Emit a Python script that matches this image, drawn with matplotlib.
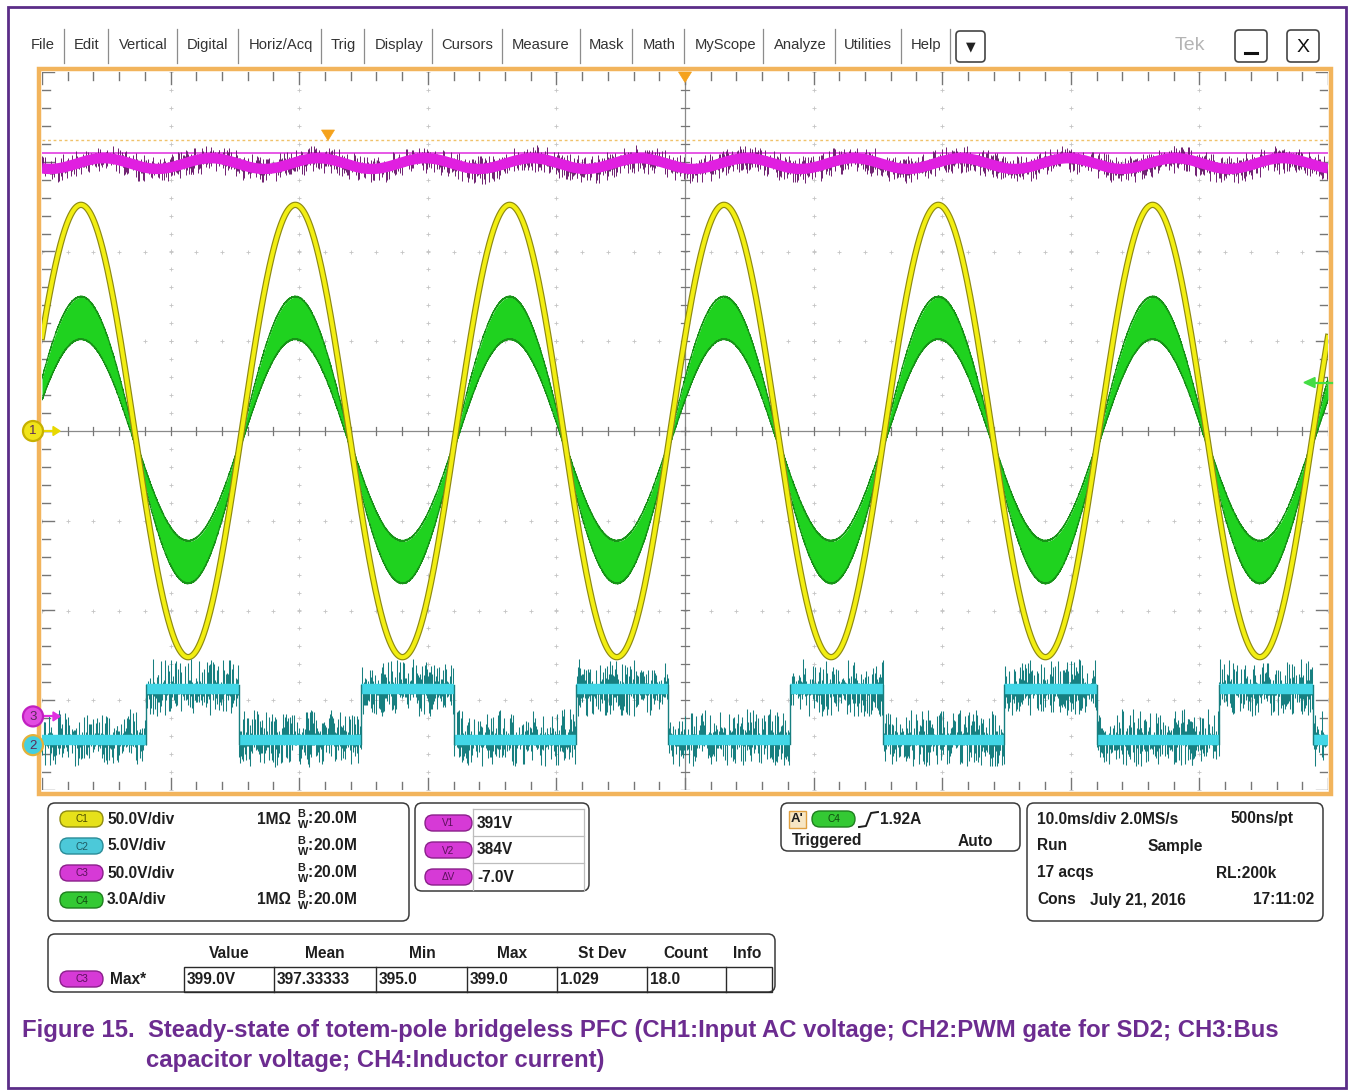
import numpy as np
import matplotlib.pyplot as plt
from matplotlib.patches import Rectangle, FancyBboxPatch, Circle, Polygon

plt.rcParams['font.family'] = ['Liberation Sans', 'DejaVu Sans']
plt.rcParams['mathtext.fontset'] = 'custom'
plt.rcParams['mathtext.rm'] = 'Liberation Sans:bold'

W, H = 1354, 1091

# time base and line frequency
ms_per_div = 10.0
line_hz = 60.0

# CH1: input AC voltage
ch1_v_per_div = 50.0
ch1_peak_v = 126.0
ch1_peak_t_ms = 3.03

# CH4: inductor current (switching ripple shown as a band)
ch4_a_per_div = 3.0
ch4_pos_div = -0.10
ch4_peak_a = 4.08
ch4_ripple_crest_a = 0.69
ch4_ripple_zero_a = 0.10
trig_level_a = 1.92

# CH3: bus capacitor voltage
ch3_v_per_div = 50.0
ch3_center_v = 229.0
ch3_mean_v = 378.0
ch3_ripple_v = 3.0
ch3_peak_t_ms = -45.2
ch3_pos_div = -3.18
cursor_v = [391.0, 384.0]

# CH2: PWM gate for SD2
ch2_v_per_div = 5.0
ch2_pos_div = -3.50
ch2_low_v = 0.3
ch2_high_v = 3.1
ch2_rise_ms = [-41.9, -25.2, -8.5, 8.2, 24.8, 41.5]
ch2_fall_ms = [-34.7, -18.0, -1.3, 15.4, 32.0, 48.8]

menu_items = ['File', 'Edit', 'Vertical', 'Digital', 'Horiz/Acq', 'Trig', 'Display',
              'Cursors', 'Measure', 'Mask', 'Math', 'MyScope', 'Analyze', 'Utilities', 'Help']
menu_x = [43, 87, 143, 208, 281, 343, 399, 467, 541, 606, 659, 726, 800, 868, 926]
menu_sep_x = [64, 108, 177, 238, 321, 364, 432, 502, 580, 632, 684, 763, 835, 901, 950]

chan_scale = ['50.0V/div', '5.0V/div', '50.0V/div', '3.0A/div']
chan_term = ['1MΩ', '', '', '1MΩ']
cursor_labels = ['V1', 'V2', 'ΔV']
cursor_text = ['391V', '384V', '-7.0V']
meas_head = ['Value', 'Mean', 'Min', 'Max', 'St Dev', 'Count', 'Info']
meas_vals = ['399.0V', '397.33333', '395.0', '399.0', '1.029', '18.0', '']

# screen rectangle in pixels
X0, X1, Y0, Y1 = 42, 1328, 72, 790


def px_x(d):
    return X0 + (d + 5) * (X1 - X0) / 10


def px_y(d):
    return Y1 - (d + 4) * (Y1 - Y0) / 8


def hashnoise(n, seed):
    k = np.arange(n, dtype=float)
    return np.modf(np.abs(np.sin(k * 12.9898 + seed * 78.233) * 43758.5453))[0]


fig = plt.figure(figsize=(W / 100, H / 100), dpi=100)
fig.patch.set_facecolor('white')

ui = fig.add_axes([0, 0, 1, 1], zorder=0)
ui.set_xlim(0, W)
ui.set_ylim(H, 0)
ui.axis('off')

ax = fig.add_axes([X0 / W, 1 - Y1 / H, (X1 - X0) / W, (Y1 - Y0) / H], zorder=2)
ax.set_xlim(-5, 5)
ax.set_ylim(-4, 4)
ax.axis('off')

top = fig.add_axes([0, 0, 1, 1], zorder=5)
top.set_xlim(0, W)
top.set_ylim(H, 0)
top.axis('off')
top.patch.set_alpha(0)

# outer border and graticule frame
ui.add_patch(Rectangle((8, 7), 1338, 1081, fill=False, ec='#5b2d88', lw=2))
ui.add_patch(Rectangle((39, 69), 1292, 725, fill=False, ec='#f2b45c', lw=3.2))

# ---- menu bar ----
for name, x in zip(menu_items, menu_x):
    ui.text(x, 45, name, ha='center', va='center', fontsize=10.6, color='#333333')
for x in menu_sep_x:
    ui.plot([x, x], [29, 63], color='#8c8c8c', lw=0.9)
ui.add_patch(FancyBboxPatch((956, 31), 29, 31, boxstyle='round,pad=0,rounding_size=4',
                            fc='white', ec='#444444', lw=1.2))
ui.text(970.5, 46.5, '▼', ha='center', va='center', fontsize=9, color='#222222',
        family='DejaVu Sans')
ui.text(1190, 46, 'Tek', ha='center', va='center', fontsize=14, color='#b4b4b4')
ui.add_patch(FancyBboxPatch((1235, 30), 32, 32, boxstyle='round,pad=0,rounding_size=4',
                            fc='white', ec='#444444', lw=1.2))
ui.plot([1245, 1257], [53, 53], color='#111111', lw=2.2)
ui.add_patch(FancyBboxPatch((1287, 30), 32, 32, boxstyle='round,pad=0,rounding_size=4',
                            fc='white', ec='#444444', lw=1.2))
ui.text(1303, 47, 'X', ha='center', va='center', fontsize=14, color='#111111')

# ---- graticule ----
grid_c = '#c4c4c4'
for k in range(-4, 5):
    if k == 0:
        continue
    ys = np.arange(-4, 4.01, 0.2)
    ax.plot(np.full_like(ys, k), ys, ls='none', marker='+', ms=3.2, mew=0.6, color=grid_c, zorder=1)
for m in range(-3, 4):
    if m == 0:
        continue
    xs = np.arange(-5, 5.01, 0.2)
    ax.plot(xs, np.full_like(xs, m), ls='none', marker='+', ms=3.2, mew=0.6, color=grid_c, zorder=1)

tick_c = '#767676'
ax.axhline(0, color='#8a8a8a', lw=0.9, zorder=1)
ax.axvline(0, color='#8a8a8a', lw=0.9, zorder=1)
dx, dy = 1 / 128.6, 1 / 89.75
for x in np.arange(-5, 5.01, 0.2):
    ax.plot([x, x], [-4 * dy, 4 * dy], color=tick_c, lw=0.9, zorder=1)
    big = abs(x - round(x)) < 1e-6
    ln = (12 if big else 8) * dy
    ax.plot([x, x], [4, 4 - ln], color=tick_c, lw=1.0, zorder=1)
    ax.plot([x, x], [-4, -4 + ln], color=tick_c, lw=1.0, zorder=1)
for y in np.arange(-4, 4.01, 0.2):
    ax.plot([-4 * dx, 4 * dx], [y, y], color=tick_c, lw=0.9, zorder=1)
    big = abs(y - round(y)) < 1e-6
    ln = (12 if big else 8) * dx
    ax.plot([-5, -5 + ln], [y, y], color=tick_c, lw=1.0, zorder=1)
    ax.plot([5, 5 - ln], [y, y], color=tick_c, lw=1.0, zorder=1)

# ---- waveforms ----
t = np.linspace(-50, 50, 14001)
xd = t / ms_per_div
w = 2 * np.pi * line_hz / 1000.0

# CH3 bus voltage with cursors
y_c1 = (cursor_v[0] - ch3_center_v) / ch3_v_per_div
y_c2 = (cursor_v[1] - ch3_center_v) / ch3_v_per_div
ax.plot([-5, 5], [y_c1, y_c1], color='#f0c26a', lw=1.0, ls=(0, (2, 2)), zorder=2)
ax.plot([-5, 5], [y_c2, y_c2], color='#e23ce2', lw=1.2, zorder=2)

v3 = ch3_mean_v + ch3_ripple_v * np.cos(2 * w * (t - ch3_peak_t_ms))
y3 = (v3 - ch3_center_v) / ch3_v_per_div
ns = 1800
idx = np.linspace(0, len(t) - 1, ns).astype(int)
u1, u2 = hashnoise(ns, 1), hashnoise(ns, 2)
ax.vlines(xd[idx], y3[idx] - 0.03 - 0.14 * u1 ** 3, y3[idx] + 0.03 + 0.12 * u2 ** 3,
          color='#6e1f70', lw=0.7, zorder=3)
ax.plot(xd, y3, color='#e01fe0', lw=7.5, zorder=3, solid_capstyle='butt')

# CH4 inductor current band
ph = np.cos(w * (t - ch1_peak_t_ms))
i4 = ch4_peak_a * ph
env = ch4_ripple_zero_a + (ch4_ripple_crest_a - ch4_ripple_zero_a) * np.abs(ph)
lo = ch4_pos_div + (i4 - env) / ch4_a_per_div
hi = ch4_pos_div + (i4 + env) / ch4_a_per_div
ax.fill_between(xd, lo, hi, color='#1fd21f', lw=0, zorder=4)
j = 0.014 * hashnoise(len(t), 3)
ax.plot(xd, lo - j, color='#179317', lw=0.8, zorder=4)
ax.plot(xd, hi + j, color='#179317', lw=0.8, zorder=4)

# CH1 input voltage
v1 = ch1_peak_v * ph
y1 = v1 / ch1_v_per_div
ax.plot(xd, y1, color='#8e8a12', lw=4.6, zorder=5)
ax.plot(xd, y1, color='#f2ee12', lw=2.9, zorder=5)

# CH2 PWM gate
rise = np.array(ch2_rise_ms)
fall = np.array(ch2_fall_ms)
high = np.zeros_like(t, dtype=bool)
for r, f in zip(rise, fall):
    high |= (t >= r) & (t < f)
v2 = np.where(high, ch2_high_v, ch2_low_v)
y2 = ch2_pos_div + v2 / ch2_v_per_div
ns2 = 2200
idx2 = np.linspace(0, len(t) - 1, ns2).astype(int)
a1, a2 = hashnoise(ns2, 4), hashnoise(ns2, 5)
ax.vlines(xd[idx2], y2[idx2] - 0.04 - 0.26 * a1 ** 3, y2[idx2] + 0.04 + 0.30 * a2 ** 3,
          color='#177f80', lw=0.75, zorder=6)
edges = np.sort(np.concatenate([rise, fall]))
bounds = np.concatenate([[t[0]], edges, [t[-1]]])
y_low = ch2_pos_div + ch2_low_v / ch2_v_per_div
y_high = ch2_pos_div + ch2_high_v / ch2_v_per_div
for a, b in zip(bounds[:-1], bounds[1:]):
    mid = 0.5 * (a + b)
    lvl = y_high if np.any((rise <= mid) & (fall > mid)) else y_low
    ax.plot([a / ms_per_div, b / ms_per_div], [lvl, lvl], color='#42d6e6', lw=7.5,
            zorder=6, solid_capstyle='butt')
for e in edges:
    ax.plot([e / ms_per_div] * 2, [y_low - 0.05, y_high + 0.05], color='#177f80', lw=1.0, zorder=6)

# ---- markers ----
def tri_down(axh, x, y, s, c):
    axh.add_patch(Polygon([[x - s, y], [x + s, y], [x, y + 1.6 * s]], closed=True,
                          fc=c, ec=c, lw=0.5, zorder=8))


tri_down(top, px_x(0), 72, 6.5, '#f5a21c')
tri_down(top, 328, 130, 6.5, '#f5a21c')

for pos, num, fc, ec, ac in [(0.0, '1', '#f1e41a', '#c7b000', '#e8d800'),
                             (ch3_pos_div, '3', '#e24ce2', '#c020c0', '#e030e0'),
                             (ch2_pos_div, '2', '#43cfe0', '#e3b23a', None)]:
    yy = px_y(pos)
    if ac:
        top.plot([43, 55], [yy, yy], color=ac, lw=1.6, zorder=9)
        top.add_patch(Polygon([[53, yy - 4.5], [53, yy + 4.5], [60, yy]], fc=ac, ec=ac, zorder=9))
    top.add_patch(Circle((33, yy), 10, fc=fc, ec=ec, lw=1.6, zorder=10))
    top.text(33, yy + 0.5, num, ha='center', va='center', fontsize=9.5, color='#5a2a5a', zorder=11)

ty = px_y(ch4_pos_div + trig_level_a / ch4_a_per_div)
top.plot([1313, 1332], [ty, ty], color='#44dd44', lw=1.6, zorder=9)
top.add_patch(Polygon([[1315, ty - 5], [1315, ty + 5], [1304, ty]], fc='#44dd44', ec='#44dd44', zorder=9))

# ---- readout panels ----
def panel(x, y, w_, h_):
    ui.add_patch(FancyBboxPatch((x, y), w_, h_, boxstyle='round,pad=0,rounding_size=7',
                                fc='white', ec='#3a3a3a', lw=1.1))


def pill(x, yc, label, fc, ec, tc, w_=43):
    ui.add_patch(FancyBboxPatch((x, yc - 8), w_, 16, boxstyle='round,pad=0,rounding_size=8',
                                fc=fc, ec=ec, lw=1.0))
    ui.text(x + w_ / 2, yc + 0.5, label, ha='center', va='center', fontsize=7.2, color=tc)


txt = dict(fontsize=11.2, fontweight='bold', color='#1e1e1e', va='center')

panel(48, 803, 361, 118)
pills = [('C1', '#e6e11a', '#8e8a10', '#4a4a00'), ('C2', '#4cc9d9', '#2a8c98', '#1f5a62'),
         ('C3', '#d63ad6', '#8a1f8a', '#5a105a'), ('C4', '#34c934', '#1e7e1e', '#0f4a0f')]
for k, (lab, fc, ec, tc) in enumerate(pills):
    yc = 819 + 27 * k
    pill(60, yc, lab, fc, ec, tc)
    ui.text(107, yc, chan_scale[k], **txt)
    if chan_term[k]:
        ui.text(291, yc, chan_term[k], ha='right', **txt)
    ui.text(297, yc, r'$^{\rm B}_{\rm W}$:20.0M', **txt)

panel(415, 803, 174, 88)
for k, lab in enumerate(cursor_labels):
    yc = 823 + 27 * k
    pill(425, yc, lab, '#d63ad6', '#8a1f8a', '#5a105a', w_=47)
    ui.text(477, yc, cursor_text[k], **txt)
ui.plot([473, 473], [809, 890], color='#bdbdbd', lw=0.9)
ui.plot([584, 584], [809, 890], color='#bdbdbd', lw=0.9)
for yl in [809, 836, 863]:
    ui.plot([473, 584], [yl, yl], color='#bdbdbd', lw=0.9)

panel(781, 803, 239, 48)
ui.add_patch(Rectangle((789, 811), 17, 17, fc='#f7e6c4', ec='#e0a040', lw=1.0))
ui.text(797.5, 819.5, "A'", ha='center', va='center', fontsize=9.5, fontweight='bold', color='#1e1e1e')
pill(812, 819, 'C4', '#34c934', '#1e7e1e', '#0f4a0f')
ui.plot([859, 866, 871, 878], [827, 826, 813, 812], color='#1e1e1e', lw=1.4)
ui.text(880, 819, '1.92A', **txt)
ui.text(792, 841, 'Triggered', **txt)
ui.text(958, 841, 'Auto', **txt)

panel(1027, 803, 296, 118)
for x, y, s in [(1037, 819, '10.0ms/div 2.0MS/s'), (1230, 819, '500ns/pt'),
                (1037, 846, 'Run'), (1148, 846, 'Sample'),
                (1037, 873, '17 acqs'), (1216, 873, 'RL:200k'),
                (1037, 900, 'Cons'), (1090, 900, 'July 21, 2016'), (1253, 900, '17:11:02')]:
    ui.text(x, y, s, **txt)

panel(48, 934, 727, 58)
for s, xc in zip(meas_head, [229, 325, 422, 512, 602, 686, 747]):
    ui.text(xc, 953, s, ha='center', **txt)
pill(60, 979, 'C3', '#d63ad6', '#8a1f8a', '#5a105a')
ui.text(110, 979, 'Max*', **txt)
cell_x = [184, 274, 376, 467, 557, 647, 726, 772]
ui.add_patch(Rectangle((184, 967), 588, 25, fill=False, ec='#2a2a2a', lw=1.0))
for x in cell_x[1:-1]:
    ui.plot([x, x], [967, 992], color='#2a2a2a', lw=1.0)
for s, x in zip(meas_vals, cell_x[:-1]):
    ui.text(x + 3, 980, s, **txt)

# ---- caption ----
cap = dict(fontsize=17.2, fontweight='bold', color='#6c2c90', va='center')
ui.text(22, 1030, 'Figure 15.  Steady-state of totem-pole bridgeless PFC (CH1:Input AC voltage; '
        'CH2:PWM gate for SD2; CH3:Bus', **cap)
ui.text(146, 1061, 'capacitor voltage; CH4:Inductor current)', **cap)

fig.savefig('out.png', dpi=100)
